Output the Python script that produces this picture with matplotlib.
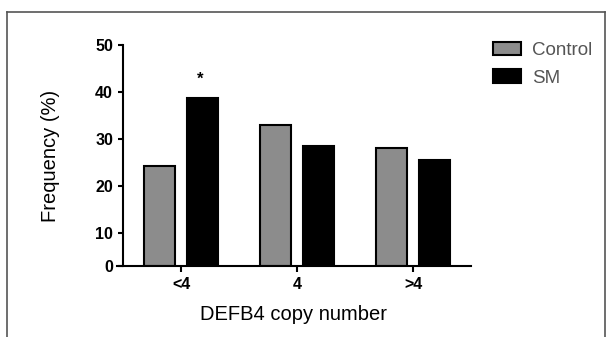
import numpy as np
import matplotlib
matplotlib.use("Agg")
import matplotlib.pyplot as plt
from matplotlib.lines import Line2D

plt.rcParams["font.family"] = ["Liberation Sans", "DejaVu Sans"]

# data
categories = ["<4", "4", ">4"]
control = [24.3, 32.9, 28.2]
sm = [38.8, 28.5, 25.5]
series_names = ["Control", "SM"]
yticks = [0, 10, 20, 30, 40, 50]
star_y = 42.8

W, H = 606, 337
fig = plt.figure(figsize=(W / 100, H / 100), dpi=100)

# frame around the figure (top, left, right)
fc = "#555555"
fig.add_artist(Line2D([7/W, 7/W], [0, 1 - 12/H], color=fc, lw=1.2))
fig.add_artist(Line2D([7/W, 1 - 1/W], [1 - 12/H, 1 - 12/H], color=fc, lw=1.2))
fig.add_artist(Line2D([1 - 1/W, 1 - 1/W], [0, 1 - 12/H], color=fc, lw=1.2))

ax = fig.add_axes([117/W, 1 - 266/H, (471 - 117)/W, (266 - 45)/H])

# y axis is compressed between 0 and 10 like in the original figure
def fwd(y):
    y = np.asarray(y, dtype=float)
    return np.where(y < 10, y * 0.7, y - 3)

def inv(t):
    t = np.asarray(t, dtype=float)
    return np.where(t < 7, t / 0.7, t + 3)

ax.set_yscale("function", functions=(fwd, inv))

for s in ["top", "right"]:
    ax.spines[s].set_visible(False)
ax.spines["left"].set_position(("data", -0.503))
ax.spines["left"].set_linewidth(1.5)
ax.spines["bottom"].set_linewidth(1.5)

x = np.arange(len(categories))
w = 0.27
off = 0.187
ax.bar(x - off, control, width=w, color="#8c8c8c", edgecolor="black", linewidth=1.5, label=series_names[0])
ax.bar(x + off, sm, width=w, color="black", edgecolor="black", linewidth=1.5, label=series_names[1])

ax.text(x[0] + off - 0.02, star_y, "*", ha="center", va="center", fontsize=12, fontweight="bold")

ax.set_xlim(-0.552, 2.5)
ax.set_ylim(0, 50)
ax.yaxis.set_minor_locator(matplotlib.ticker.NullLocator())
ax.set_xticks(x)
ax.set_xticklabels(categories, fontsize=11.5, fontweight="bold")
ax.set_yticks(yticks)
ax.set_yticklabels([str(t) for t in yticks], fontsize=11.5, fontweight="bold")

ax.tick_params(axis="y", direction="out", length=3.5, width=1.5, pad=3.5)
ax.tick_params(axis="x", direction="out", length=4.5, width=1.5, pad=3.5)

ax.set_ylabel("Frequency (%)", fontsize=14.5, labelpad=25)
ax.set_xlabel("DEFB4 copy number", fontsize=14.5, labelpad=9)

leg = ax.legend(loc="upper left", bbox_to_anchor=(493/W, 1 - 42/H), bbox_transform=fig.transFigure,
                frameon=False, fontsize=13.5, handlelength=1.5, handleheight=0.7,
                handletextpad=0.6, labelspacing=0.55, borderpad=0, borderaxespad=0)
for t in leg.get_texts():
    t.set_color("#555555")

fig.savefig("out.png", dpi=100)
